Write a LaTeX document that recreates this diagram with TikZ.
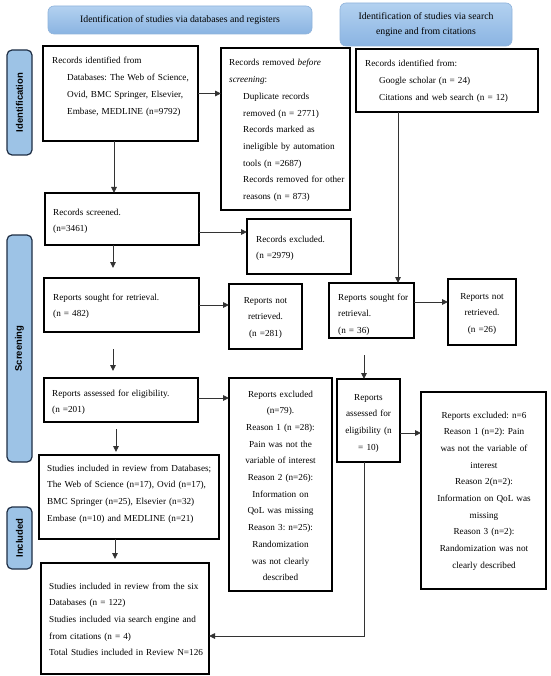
\documentclass[tikz,border=0pt]{standalone}
\usepackage{fontspec}
\setmainfont{Liberation Serif}
\newfontfamily\labelfont{Liberation Sans}
\usetikzlibrary{arrows.meta,calc}
\definecolor{hdrtop}{HTML}{B3D1F0}
\definecolor{hdrbot}{HTML}{8AB4E2}
\definecolor{hdrborder}{HTML}{8FB3DB}
\definecolor{sidefill}{HTML}{9DC3E6}
\definecolor{sideborder}{HTML}{1F2F45}
\definecolor{arrowcol}{HTML}{333333}
\frenchspacing
\begin{document}
\frenchspacing
\begin{tikzpicture}[x=1pt,y=-1pt,
  box/.style={draw=black, line width=1.15pt, anchor=north west, inner sep=0pt, outer sep=0pt},
  hdr/.style={draw=hdrborder, line width=0.6pt, rounded corners=6pt, top color=hdrtop, bottom color=hdrbot, anchor=north west, inner sep=0pt, outer sep=0pt, align=center, font=\fontsize{9.8}{15}\selectfont},
  side/.style={draw=sideborder, line width=1.2pt, rounded corners=5pt, fill=sidefill, anchor=north west, inner sep=0pt, outer sep=0pt},
  sidetxt/.style={font={\labelfont\bfseries\fontsize{9.5}{11}\selectfont}, rotate=90, inner sep=0pt},
  txt/.style={font=\fontsize{9.2}{16.7}\selectfont\frenchspacing, inner sep=0pt, anchor=base west, align=left},
  ctxt/.style={font=\fontsize{9.2}{16.7}\selectfont\frenchspacing, inner sep=0pt, anchor=base, align=center},
  arr/.style={draw=arrowcol, line width=0.9pt, -{Triangle[length=6pt,width=5.5pt]}}
]
\useasboundingbox (0,0) rectangle (550,676);
\fill[white] (0,0) rectangle (550,676);

% headers
\node[hdr, minimum width=264pt, minimum height=28pt] (h1) at (48,6) {Identification of studies via databases and registers};
\node[hdr, minimum width=172pt, minimum height=43pt] (h2) at (340,3) {Identification of studies via search\\engine and from citations};

% side labels
\node[side, minimum width=25pt, minimum height=105pt] (s1) at (7,50) {};
\node[sidetxt] (s1t) at (s1.center) {Identification};
\node[side, minimum width=25pt, minimum height=227pt] (s2) at (7,235) {};
\node[sidetxt] (s2t) at (s2.center) {Screening};
\node[side, minimum width=25pt, minimum height=62pt] (s3) at (7,507) {};
\node[sidetxt] (s3t) at (s3.center) {Included};

% boxes
\node[box, minimum width=155pt, minimum height=95pt] (A) at (43,46) {};
\node[box, minimum width=129pt, minimum height=162pt] (B) at (221,48) {};
\node[box, minimum width=182pt, minimum height=63pt] (C) at (356,49) {};
\node[box, minimum width=154pt, minimum height=52pt] (D) at (45,193) {};
\node[box, minimum width=104pt, minimum height=55pt] (E) at (247,219) {};
\node[box, minimum width=85pt, minimum height=55pt] (F) at (329,283) {};
\node[box, minimum width=68pt, minimum height=66pt] (G) at (448,279) {};
\node[box, minimum width=155pt, minimum height=54pt] (H) at (44,278) {};
\node[box, minimum width=73pt, minimum height=65pt] (I) at (229,284) {};
\node[box, minimum width=154pt, minimum height=44pt] (J) at (44,378) {};
\node[box, minimum width=103pt, minimum height=213pt] (K) at (229,378) {};
\node[box, minimum width=180pt, minimum height=84pt] (L) at (39,455) {};
\node[box, minimum width=168pt, minimum height=111pt] (M) at (41,563) {};
\node[box, minimum width=63pt, minimum height=83pt] (N) at (337,379) {};
\node[box, minimum width=125pt, minimum height=197pt] (O) at (421,392) {};

% texts
\node[txt, text width=150pt] (tA) at (52,64) {Records identified from\\\hspace*{15pt}\makebox[123pt][s]{Databases: The Web of Science,}\\\hspace*{15pt}\makebox[123pt][s]{Ovid, BMC Springer, Elsevier,}\\\hspace*{15pt}Embase, MEDLINE (n=9792)};
\node[txt, text width=120pt] (tB) at (229,66) {Records removed \textit{before}\\\textit{screening}:\\\hspace*{14pt}Duplicate records\\\hspace*{14pt}removed (n = 2771)\\\hspace*{14pt}Records marked as\\\hspace*{14pt}ineligible by automation\\\hspace*{14pt}tools (n =2687)\\\hspace*{14pt}Records removed for other\\\hspace*{14pt}reasons (n = 873)};
\node[txt, text width=170pt] (tC) at (365,67) {Records identified from:\\\hspace*{14pt}Google scholar (n = 24)\\\hspace*{14pt}Citations and web search (n = 12)};
\node[txt, text width=140pt] (tD) at (53,215) {Records screened.\\(n=3461)};
\node[txt, text width=90pt] (tE) at (256,242) {Records excluded.\\(n =2979)};
\node[txt, text width=75pt] (tF) at (338,300) {Reports sought for\\retrieval.\\(n = 36)};
\node[ctxt, text width=64pt] (tG) at (482,299) {Reports not\\retrieved.\\(n =26)};
\node[txt, text width=140pt] (tH) at (53,300) {Reports sought for retrieval.\\(n = 482)};
\node[ctxt, text width=70pt] (tI) at (265.5,303) {Reports not\\retrieved.\\(n =281)};
\node[txt, text width=140pt] (tJ) at (52,396) {Reports assessed for eligibility.\\(n =201)};
\node[ctxt, text width=100pt] (tK) at (280.5,397) {Reports excluded\\(n=79).\\Reason 1 (n =28):\\Pain was not the\\variable of interest\\Reason 2 (n=26):\\Information on\\QoL was missing\\Reason 3: n=25):\\Randomization\\was not clearly\\described};
\node[txt, text width=175pt] (tL) at (47,471) {\makebox[166pt][s]{Studies included in review from Databases;}\\\makebox[166pt][s]{The Web of Science (n=17), Ovid (n=17),}\\BMC Springer (n=25), Elsevier (n=32)\\Embase (n=10) and MEDLINE (n=21)};
\node[txt, text width=158pt] (tM) at (49,589) {\makebox[151pt][s]{Studies included in review from the six}\\Databases (n = 122)\\\makebox[151pt][s]{Studies included via search engine and}\\from citations (n = 4)\\Total Studies included in Review N=126};
\node[ctxt, text width=60pt] (tN) at (368.5,400) {Reports\\assessed for\\eligibility (n\\= 10)};
\node[ctxt, text width=120pt] (tO) at (484,418) {Reports excluded: n=6\\Reason 1 (n=2): Pain\\was not the variable of\\interest\\Reason 2(n=2):\\Information on QoL was\\missing\\Reason 3 (n=2):\\Randomization was not\\clearly described};

% helper coordinates
\coordinate (xAD) at (114,0);
\coordinate (xDH) at (113,0);
\coordinate (xJL) at (116,0);
\coordinate (xLM) at (115,0);
\coordinate (xCF) at (398,0);
\coordinate (xFN) at (364,0);
\coordinate (yDE) at (0,232);
\coordinate (yFG) at (0,302);
\coordinate (yJK) at (0,398);
\coordinate (yNO) at (0,433);
\coordinate (yNM) at (0,636);

% connectors
\draw[arr] (A.east) -- (B.west |- A.east);
\draw[arr] (xAD |- A.south) -- (xAD |- D.north);
\draw[arr] (D.east |- yDE) -- (E.west |- yDE);
\draw[arr, shorten >=10pt] (xDH |- D.south) -- (xDH |- H.north);
\draw[arr] (H.east) -- (I.west |- H.east);
\draw[arr, shorten <=17pt, shorten >=7pt] (xDH |- H.south) -- (xDH |- J.north);
\draw[arr] (J.east |- yJK) -- (K.west |- yJK);
\draw[arr, shorten <=7pt, shorten >=3pt] (xJL |- J.south) -- (xJL |- L.north);
\draw[arr, shorten >=4pt] (xLM |- L.south) -- (xLM |- M.north);
\draw[arr] (xCF |- C.south) -- (xCF |- F.north);
\draw[arr] (F.east |- yFG) -- (G.west |- yFG);
\draw[arr, shorten <=17pt] (xFN |- F.south) -- (xFN |- N.north);
\draw[arr] (N.east |- yNO) -- (O.west |- yNO);
\draw[arr] (xFN |- N.south) |- (M.east |- yNM);
\end{tikzpicture}
\end{document}
